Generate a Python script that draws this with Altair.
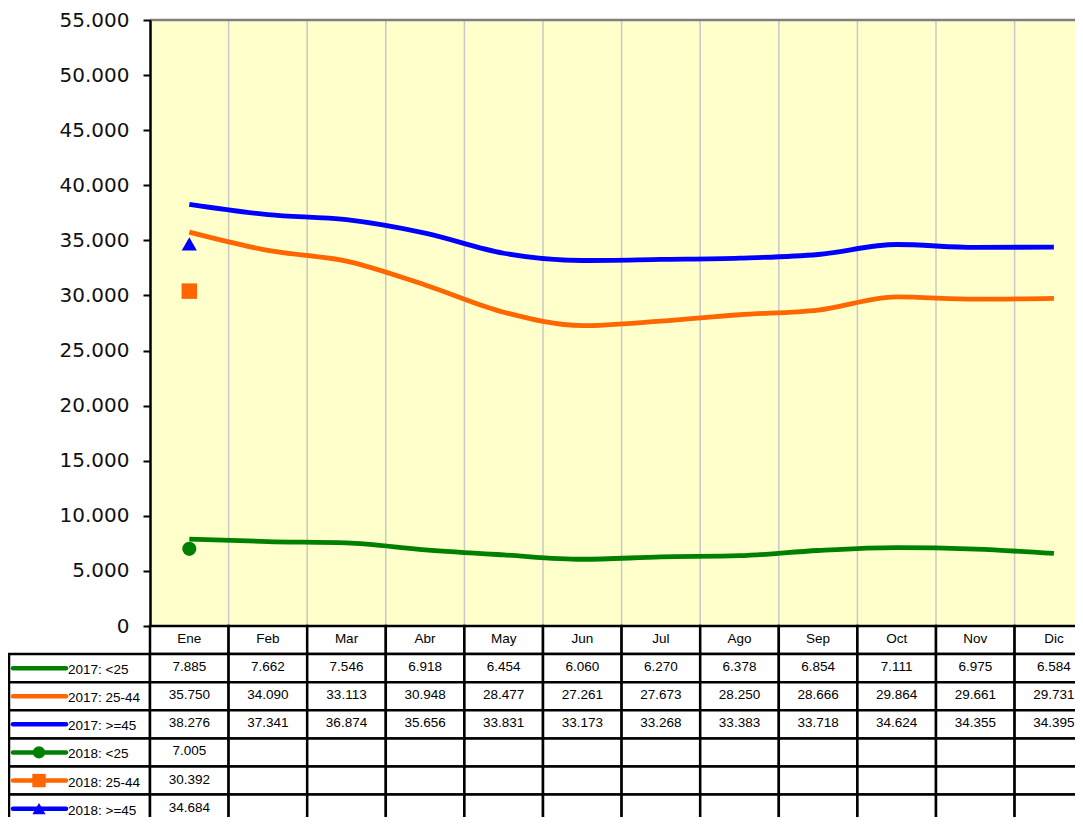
import altair as alt
import pandas as pd

# ---------------- data ----------------
months = ["Ene", "Feb", "Mar", "Abr", "May", "Jun", "Jul", "Ago", "Sep", "Oct", "Nov", "Dic"]
v2017_lt25 = [7885, 7662, 7546, 6918, 6454, 6060, 6270, 6378, 6854, 7111, 6975, 6584]
v2017_25_44 = [35750, 34090, 33113, 30948, 28477, 27261, 27673, 28250, 28666, 29864, 29661, 29731]
v2017_ge45 = [38276, 37341, 36874, 35656, 33831, 33173, 33268, 33383, 33718, 34624, 34355, 34395]
v2018_lt25 = [7005]
v2018_25_44 = [30392]
v2018_ge45 = [34684]

series_names = ["2017: <25", "2017: 25-44", "2017: >=45", "2018: <25", "2018: 25-44", "2018: >=45"]
series_values = [v2017_lt25, v2017_25_44, v2017_ge45, v2018_lt25, v2018_25_44, v2018_ge45]
series_colors = ["#008000", "#FF6600", "#0000FF", "#008000", "#FF6600", "#0000FF"]
series_shapes = ["", "", "", "circle", "square", "triangle-up"]
series_sizes = [0, 0, 0, 200, 240, 230]
y_ticks = list(range(0, 55001, 5000))

# ---------------- geometry ----------------
COL = 78.6            # px per month column
LABEL_W = 141         # px of the label column
W = 1066              # plot width (px)
H = 797               # plot height (px)
PLOT_H = 606          # px of value area
ROW_H = 28.1
X0 = -0.5 - LABEL_W / COL
X1 = X0 + W / COL
XS = alt.Scale(domain=[X0, X1], nice=False, zero=False)
YS = alt.Scale(domain=[0, 55000], range=[PLOT_H, 0], nice=False, zero=False)
rows = ["hdr"] + series_names
RS = alt.Scale(domain=rows, range=[PLOT_H, PLOT_H + ROW_H * len(rows)], paddingInner=0, paddingOuter=0)

TABLE_FONT = "Liberation Sans, Arial, sans-serif"
TABLE_SIZE = 13.5


def fmt(v):
    return f"{v:,}".replace(",", ".")


# ---------------- plot part ----------------
bg_df = pd.DataFrame({"x": [-0.5], "x2": [11.5], "y": [0], "y2": [55000]})
bg = alt.Chart(bg_df).mark_rect(fill="#FFFFCC").encode(
    x=alt.X("x:Q", scale=XS, axis=None),
    x2="x2",
    y=alt.Y("y:Q", scale=YS),
    y2="y2",
)

grid_df = pd.DataFrame({"x": [i + 0.5 for i in range(11)], "y": 0, "y2": 55000})
grid = alt.Chart(grid_df).mark_rule(color="#C8C8C8", strokeWidth=1.5).encode(
    x=alt.X("x:Q", scale=XS, axis=None),
    y=alt.Y("y:Q", scale=YS),
    y2="y2",
)

top_df = pd.DataFrame({"x": [-0.5], "x2": [11.5], "y": [55000]})
top = alt.Chart(top_df).mark_rule(color="#808080", strokeWidth=2.5).encode(
    x=alt.X("x:Q", scale=XS, axis=None),
    x2="x2",
    y=alt.Y("y:Q", scale=YS),
)

line_rows = []
for name, vals, col in zip(series_names[:3], series_values[:3], series_colors[:3]):
    for i, v in enumerate(vals):
        line_rows.append({"series": name, "i": i, "value": v, "color": col})
line_df = pd.DataFrame(line_rows)
lines = alt.Chart(line_df).mark_line(interpolate="monotone", strokeWidth=4.8).encode(
    x=alt.X("i:Q", scale=XS, axis=None),
    y=alt.Y("value:Q", scale=YS, axis=alt.Axis(
        values=y_ticks, title=None, orient="left", offset=-LABEL_W, zindex=1,
        labelExpr="replace(format(datum.value, ','), ',', '.')",
        labelFont="DejaVu Sans", labelFontSize=20, labelColor="#111111",
        labelPadding=14, tickSize=7, tickWidth=2, tickColor="black",
        domainColor="black", domainWidth=2.5, grid=False)),
    color=alt.Color("color:N", scale=None),
    detail="series:N",
)

pt_rows = []
for name, vals, col, shp, sz in zip(series_names[3:], series_values[3:], series_colors[3:],
                                    series_shapes[3:], series_sizes[3:]):
    for i, v in enumerate(vals):
        pt_rows.append({"series": name, "i": i, "value": v, "color": col, "shape": shp, "size": sz})
pt_df = pd.DataFrame(pt_rows)
points = alt.Chart(pt_df).mark_point(filled=True, opacity=1).encode(
    x=alt.X("i:Q", scale=XS, axis=None),
    y=alt.Y("value:Q", scale=YS),
    color=alt.Color("color:N", scale=None),
    shape=alt.Shape("shape:N", scale=None),
    size=alt.Size("size:Q", scale=None),
)

plot = alt.layer(bg, grid, top, lines, points)

# ---------------- table part ----------------
cell_rows = []
for i in range(12):
    cell_rows.append({"row": "hdr", "x": i - 0.5, "x2": i + 0.5})
for name in series_names:
    cell_rows.append({"row": name, "x": X0, "x2": -0.5})
    for i in range(12):
        cell_rows.append({"row": name, "x": i - 0.5, "x2": i + 0.5})
cell_df = pd.DataFrame(cell_rows)
cells = alt.Chart(cell_df).mark_rect(fill="white", stroke="black", strokeWidth=2.5).encode(
    x=alt.X("x:Q", scale=XS, axis=None),
    x2="x2",
    y=alt.Y("row:N", scale=RS, axis=None),
)

txt_rows = [{"row": "hdr", "i": i, "label": m} for i, m in enumerate(months)]
for name, vals in zip(series_names, series_values):
    for i, v in enumerate(vals):
        txt_rows.append({"row": name, "i": i, "label": fmt(v)})
txt_df = pd.DataFrame(txt_rows)
texts = alt.Chart(txt_df).mark_text(font=TABLE_FONT, fontSize=TABLE_SIZE, color="black", dy=-1).encode(
    x=alt.X("i:Q", scale=XS, axis=None),
    y=alt.Y("row:N", scale=RS, axis=None),
    text="label:N",
)

lab_df = pd.DataFrame({"row": series_names, "x": X0 + 59 / COL})
labels = alt.Chart(lab_df).mark_text(font=TABLE_FONT, fontSize=TABLE_SIZE, color="black",
                                     align="left", dy=2).encode(
    x=alt.X("x:Q", scale=XS, axis=None),
    y=alt.Y("row:N", scale=RS, axis=None),
    text="row:N",
)

sym_df = pd.DataFrame({"row": series_names, "x": X0 + 4 / COL, "x2": X0 + 57 / COL,
                       "xm": X0 + 30 / COL, "color": series_colors,
                       "shape": series_shapes, "size": [s * 0.75 for s in series_sizes]})
sym_lines = alt.Chart(sym_df).mark_rule(strokeWidth=4.5, strokeCap="round").encode(
    x=alt.X("x:Q", scale=XS, axis=None),
    x2="x2",
    y=alt.Y("row:N", scale=RS, axis=None),
    color=alt.Color("color:N", scale=None),
)
sym_pts = alt.Chart(sym_df[sym_df["shape"] != ""]).mark_point(filled=True, opacity=1).encode(
    x=alt.X("xm:Q", scale=XS, axis=None),
    y=alt.Y("row:N", scale=RS, axis=None),
    color=alt.Color("color:N", scale=None),
    shape=alt.Shape("shape:N", scale=None),
    size=alt.Size("size:Q", scale=None),
)

table = alt.layer(cells, texts, labels, sym_lines, sym_pts)

chart = alt.layer(plot, table).resolve_scale(y="independent").properties(
    width=W, height=H,
    autosize=alt.AutoSizeParams(type="none"),
    padding={"left": 1, "top": 12, "right": 0, "bottom": 0},
    background="white",
).configure_view(stroke=None)

chart.save("out.html", embed_options={"renderer": "svg", "actions": False})
